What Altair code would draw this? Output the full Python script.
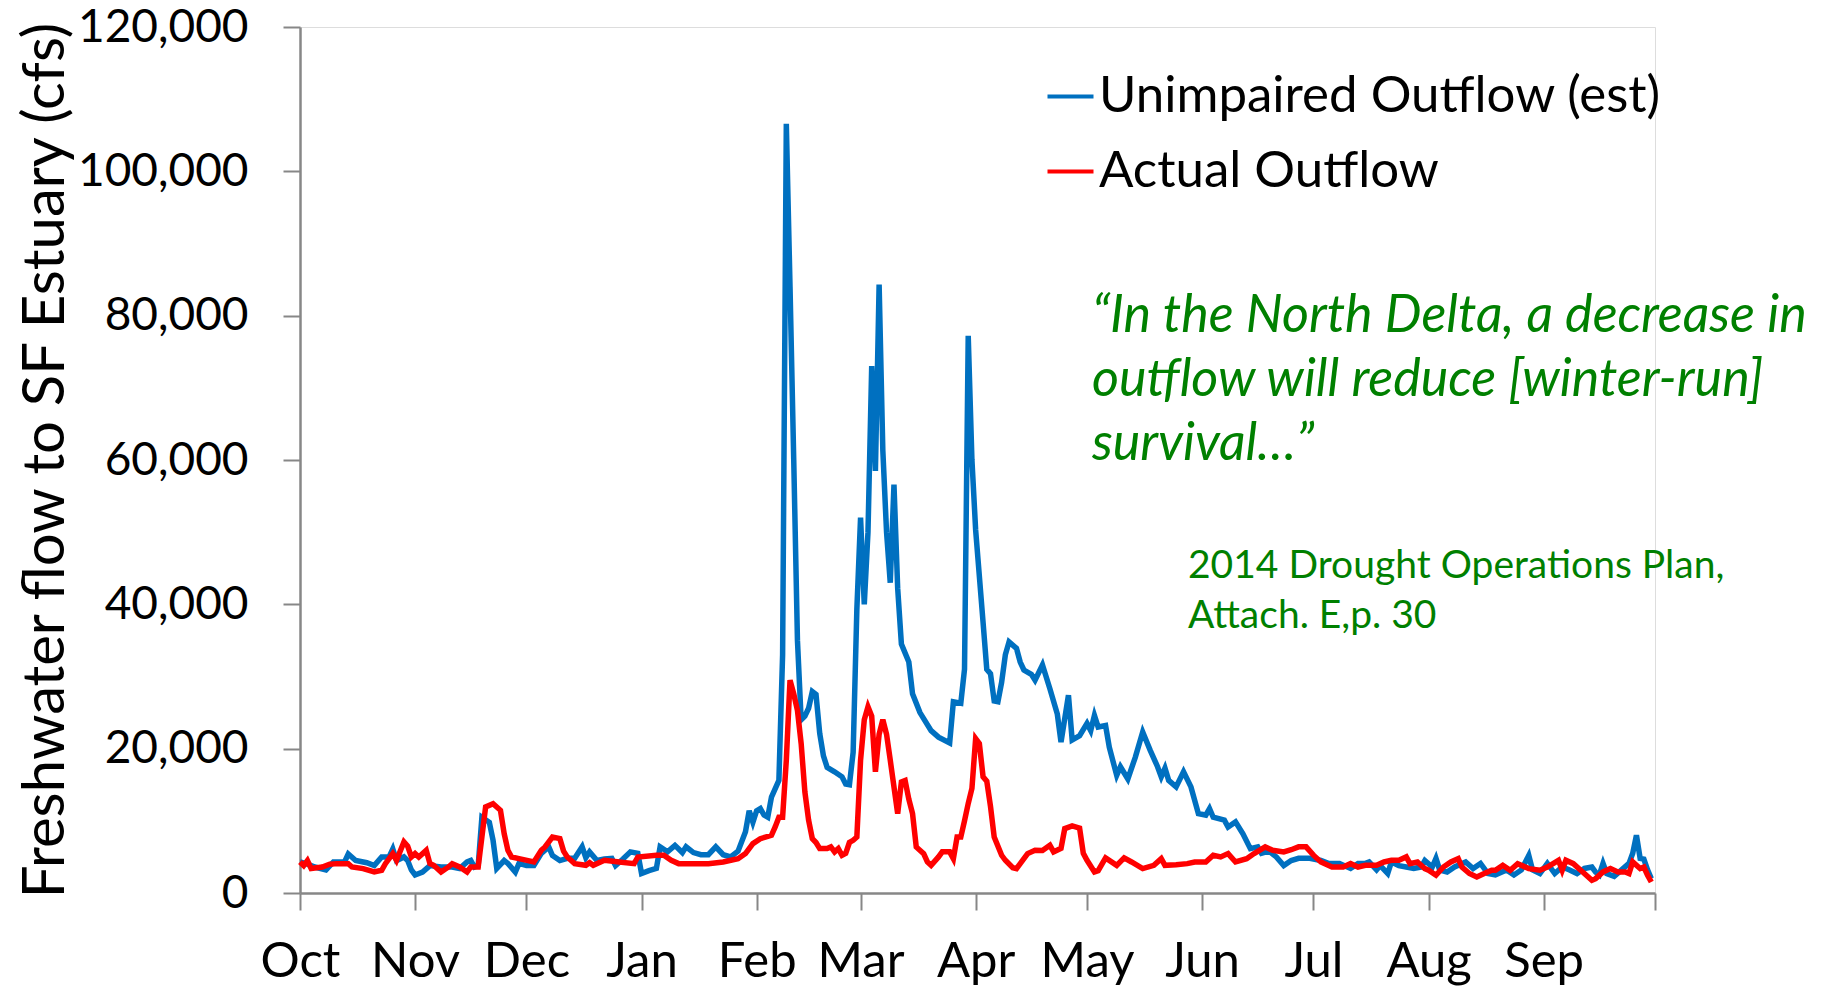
import altair as alt
import pandas as pd

# ---------------- data ----------------
water_year_start = "2013-10-01"

unimpaired_day = [0, 2, 4, 7, 9, 12, 13, 15, 18, 20, 22, 24, 25, 26, 28, 29, 30, 31, 33, 35,
                  38, 41, 43, 45, 46, 47, 48, 49, 51, 52, 53, 55, 56, 58, 59, 61, 63, 65, 67, 68,
                  70, 72, 74, 76, 77, 78, 80, 82, 84, 85, 87, 89, 91, 92, 94, 96, 97, 99, 101, 103,
                  104, 106, 108, 110, 112, 114, 116, 118, 120, 121, 122, 123, 124, 125, 126, 127, 129, 130, 131, 132,
                  133, 134, 135, 136, 137, 138, 139, 140, 141, 142, 144, 146, 147, 148, 149, 150, 151, 152, 153, 154,
                  155, 156, 157, 158, 159, 160, 161, 162, 164, 165, 167, 170, 172, 175, 176, 178, 179, 180, 181, 182,
                  184, 185, 186, 187, 188, 189, 190, 191, 193, 194, 195, 197, 198, 200, 202, 204, 205, 207, 208, 210,
                  212, 213, 214, 215, 217, 218, 220, 221, 223, 225, 227, 229, 231, 232, 233, 234, 236, 238, 240, 242,
                  244, 245, 246, 249, 250, 252, 254, 256, 258, 259, 261, 263, 265, 267, 269, 272, 275, 277, 280, 283,
                  285, 287, 288, 290, 291, 293, 294, 296, 298, 300, 302, 303, 305, 306, 307, 309, 311, 314, 316, 318,
                  320, 322, 325, 327, 329, 331, 332, 334, 336, 338, 340, 342, 344, 346, 348, 349, 350, 351, 352, 354,
                  356, 358, 359, 360, 361, 362, 363, 364]
unimpaired_cfs = [4300, 4000, 3600, 3200, 4300, 4300, 5400, 4500, 4200, 3800, 5000, 5000, 6100, 4500, 5000, 4500, 3200, 2500, 2900, 3800,
                  3600, 3600, 3400, 4300, 4500, 3600, 3800, 10500, 9800, 7300, 3400, 4500, 4100, 2900, 4100, 3800, 3800, 5500, 6400, 5200,
                  4500, 4800, 4800, 6400, 4900, 5700, 4500, 4700, 4800, 3800, 4700, 5700, 5500, 2700, 3100, 3400, 6400, 5700, 6600, 5600,
                  6400, 5600, 5300, 5300, 6400, 5300, 5000, 5800, 8500, 11400, 9800, 11400, 11700, 10800, 10500, 13300, 15600, 33000, 106600, 84000,
                  60000, 35000, 24000, 24500, 25600, 27900, 27500, 22100, 19000, 17400, 16800, 16100, 15100, 15000, 19500, 39300, 52000, 40000, 50000, 73000,
                  58500, 84300, 61300, 50000, 43000, 56600, 42200, 34500, 32000, 27600, 25000, 22500, 21600, 20800, 26500, 26300, 31000, 77200, 60000, 50300,
                  37500, 31000, 30400, 26600, 26500, 29200, 33000, 34800, 33900, 32000, 30900, 30300, 29500, 31600, 28300, 24800, 20900, 27400, 21200, 21800,
                  23500, 22500, 24600, 23000, 23200, 20200, 16300, 17500, 15800, 18800, 22300, 19800, 17500, 16100, 17300, 15600, 14700, 16800, 14700, 11000,
                  10800, 11700, 10500, 10100, 9150, 9850, 8200, 6150, 6400, 5500, 5800, 5000, 3800, 4500, 4800, 4800, 4500, 4100, 4100, 3400,
                  4100, 4100, 4300, 3200, 3800, 2700, 4300, 3800, 3600, 3400, 3600, 4500, 3600, 4800, 3200, 2900, 3600, 4300, 3400, 4100,
                  2700, 2500, 3200, 2500, 3200, 5200, 3200, 2700, 4100, 2700, 3600, 3200, 2700, 3400, 3600, 2900, 2500, 4100, 2700, 2300,
                  3200, 4100, 5500, 8000, 4800, 4700, 3200, 2000]

actual_day = [0, 1, 2, 3, 6, 8, 10, 13, 14, 17, 20, 22, 23, 25, 26, 28, 29, 30, 31, 32,
              34, 35, 36, 38, 40, 41, 43, 45, 46, 48, 49, 50, 52, 54, 55, 56, 57, 59, 63, 65,
              66, 68, 70, 71, 72, 74, 77, 78, 79, 82, 86, 90, 91, 96, 98, 100, 102, 106, 110, 114,
              118, 120, 122, 124, 127, 128, 129, 130, 131, 132, 133, 134, 135, 136, 137, 138, 139, 140, 142, 143,
              144, 145, 146, 147, 148, 149, 150, 151, 152, 153, 154, 155, 156, 157, 158, 159, 161, 162, 163, 164,
              165, 166, 168, 169, 170, 172, 173, 175, 176, 177, 178, 179, 180, 181, 182, 183, 184, 185, 186, 187,
              189, 190, 192, 193, 195, 196, 198, 200, 202, 203, 205, 206, 208, 210, 211, 212, 214, 215, 217, 220,
              222, 224, 227, 230, 232, 233, 236, 239, 241, 244, 246, 248, 250, 252, 255, 257, 260, 262, 265, 267,
              269, 271, 273, 275, 278, 281, 283, 285, 287, 290, 292, 294, 296, 298, 299, 301, 303, 304, 306, 308,
              310, 312, 313, 315, 317, 319, 321, 322, 324, 326, 328, 331, 334, 336, 339, 340, 341, 343, 345, 348,
              349, 351, 353, 355, 357, 358, 359, 361, 362, 363, 364]
actual_cfs = [4300, 3800, 4500, 3400, 3600, 4000, 4070, 4070, 3610, 3380, 2910, 3150, 4070, 5460, 4530, 7080, 6500, 4990, 5460, 4990,
              5910, 4070, 3840, 2910, 3610, 4070, 3610, 2910, 3610, 3610, 7760, 11920, 12380, 11460, 8220, 5910, 4990, 4760, 4300, 5920,
              6380, 7760, 7530, 5800, 4990, 4070, 3840, 4200, 3840, 4530, 4300, 4070, 4990, 5220, 5220, 4530, 4070, 4070, 4070, 4300,
              4760, 5460, 6840, 7530, 8000, 9150, 10500, 10500, 18400, 29500, 27600, 25300, 20700, 14000, 10100, 7530, 7000, 6150, 6150, 6380,
              5700, 6150, 5230, 5500, 7000, 7300, 7760, 18400, 24000, 25800, 24500, 16800, 22000, 24000, 22000, 18400, 11000, 15400, 15600, 13000,
              11000, 6380, 5460, 4300, 3830, 5000, 5700, 5700, 4760, 7760, 7760, 10000, 12400, 14500, 21400, 20700, 16100, 15500, 12000, 7760,
              5230, 4530, 3500, 3380, 4760, 5460, 5920, 5900, 6610, 5700, 6200, 8920, 9300, 9000, 5500, 4530, 2920, 3100, 4860, 3830,
              4860, 4300, 3380, 3830, 4760, 3830, 3900, 4070, 4300, 4300, 5230, 5000, 5460, 4300, 4760, 5460, 6380, 5920, 5700, 6000,
              6400, 6400, 5240, 4300, 3600, 3600, 4070, 3600, 3830, 3830, 4300, 4530, 4530, 5000, 4070, 4300, 3380, 3150, 2460, 3600,
              4300, 4760, 3600, 2700, 2230, 2690, 3150, 3150, 3830, 3150, 4070, 3380, 3150, 3600, 4530, 3150, 4530, 4070, 3150, 1760,
              1990, 2920, 3380, 2920, 2920, 2690, 4300, 3380, 3600, 2460, 1530]

series_names = ["Unimpaired Outflow (est)", "Actual Outflow"]
series_colors = ["#0070C0", "#FF0000"]
month_labels = ["Oct", "Nov", "Dec", "Jan", "Feb", "Mar", "Apr", "May", "Jun", "Jul", "Aug", "Sep"]
y_ticks = [0, 20000, 40000, 60000, 80000, 100000, 120000]
y_title = "Freshwater flow to SF Estuary (cfs)"
quote_lines = ["\u201cIn the North Delta, a decrease in",
               "outflow will reduce [winter-run]",
               "survival\u2026\u201d"]
citation_lines = ["2014 Drought Operations Plan,", "Attach. E,p. 30"]

# ---------------- table ----------------
start = pd.Timestamp(water_year_start)
rows = []
for name, days, vals in [(series_names[0], unimpaired_day, unimpaired_cfs),
                         (series_names[1], actual_day, actual_cfs)]:
    for d, v in zip(days, vals):
        rows.append({"date": start + pd.Timedelta(days=d), "cfs": v, "series": name})
df = pd.DataFrame(rows)

FONT = "Lato"
AXIS_GRAY = "#878787"
GREEN = "#008000"

month_ticks = [alt.DateTime(year=2013 + (9 + i) // 12, month=(9 + i) % 12 + 1, date=1) for i in range(13)]
labels_js = "[" + ",".join("'" + m + "'" for m in month_labels) + "]"
label_expr = ("datum.value >= datetime(2014, 9, 1) ? '' : "
              + labels_js + "[(month(datum.value) + 3) % 12]")

lines = alt.Chart(df).mark_line(strokeWidth=5.5).encode(
    x=alt.X("date:T",
            scale=alt.Scale(domain=[month_ticks[0], month_ticks[-1]]),
            axis=alt.Axis(values=month_ticks, labelExpr=label_expr, title=None, grid=False,
                          labelFont=FONT, labelFontSize=49, labelColor="#000000",
                          labelBaseline="alphabetic", labelPadding=66, labelAlign="center",
                          tickSize=17, tickWidth=2, tickColor=AXIS_GRAY,
                          domainColor=AXIS_GRAY, domainWidth=2.5, labelFlush=False,
                          labelOverlap=False)),
    y=alt.Y("cfs:Q",
            scale=alt.Scale(domain=[0, 120000], nice=False),
            axis=alt.Axis(values=y_ticks, format=",d", title=y_title, grid=False,
                          labelFont=FONT, labelFontSize=46, labelColor="#000000",
                          labelPadding=35, tickSize=17, tickWidth=2, tickColor=AXIS_GRAY,
                          domainColor=AXIS_GRAY, domainWidth=2.5,
                          titleFont=FONT, titleFontSize=58, titleFontWeight="normal",
                          titleColor="#000000", titleX=-237, titleY=433,
                          titleAngle=270, titleAlign="center", titleBaseline="alphabetic")),
    color=alt.Color("series:N",
                    scale=alt.Scale(domain=series_names, range=series_colors),
                    legend=alt.Legend(title=None, orient="none", legendX=745, legendY=44,
                                      symbolType="stroke", symbolSize=2116, symbolStrokeWidth=4,
                                      labelFont=FONT, labelFontSize=51, labelColor="#000000",
                                      labelOffset=3, rowPadding=23, padding=0,
                                      labelLimit=1000)),
)

quote = alt.Chart(pd.DataFrame({"t": ["\n".join(quote_lines)]})).mark_text(
    font=FONT, fontSize=52, fontStyle="italic", color=GREEN, align="left",
    baseline="alphabetic", lineBreak="\n", lineHeight=64
).encode(text="t:N", x=alt.value(792), y=alt.value(305))

citation = alt.Chart(pd.DataFrame({"t": ["\n".join(citation_lines)]})).mark_text(
    font=FONT, fontSize=39, color=GREEN, align="left",
    baseline="alphabetic", lineBreak="\n", lineHeight=50
).encode(text="t:N", x=alt.value(888), y=alt.value(551))

chart = alt.layer(lines, quote, citation).properties(
    width=1355, height=866,
    padding={"left": 292, "top": 19, "right": 162, "bottom": 94},
    autosize=alt.AutoSizeParams(type="none"),
).configure_view(stroke=None).configure(background="white")

chart.save("out.html", embed_options={"renderer": "svg", "actions": False})
